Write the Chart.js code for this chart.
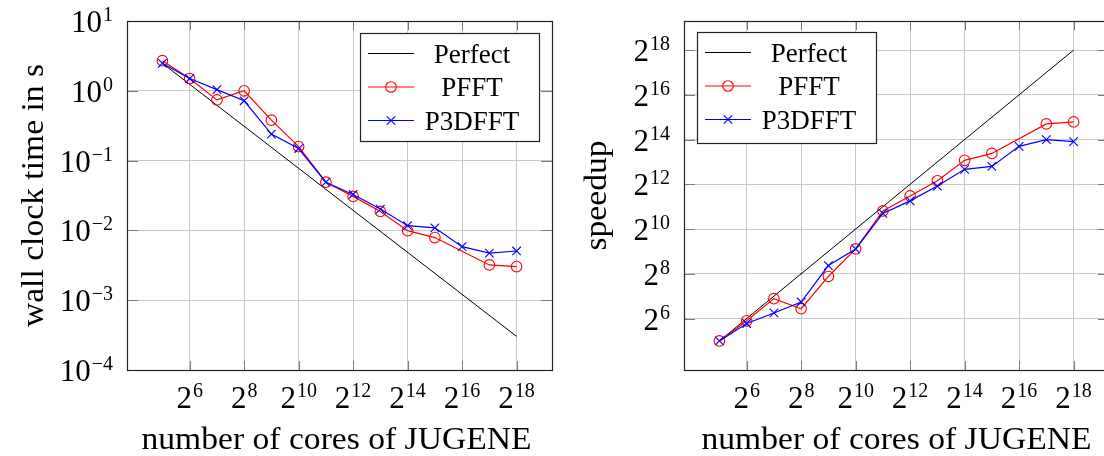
<!DOCTYPE html>
<html><head><meta charset="utf-8">
<script src="https://cdn.jsdelivr.net/npm/chart.js@4.4.1/dist/chart.umd.min.js"></script>
<style>
html,body{margin:0;padding:0;background:#fff;overflow:hidden;width:1104px;height:456px;position:relative;}
canvas{position:absolute;top:0;}
#c1{left:0}
#c2{left:560px}
</style></head><body>
<canvas id="c1" width="560" height="456"></canvas>
<canvas id="c2" width="560" height="456"></canvas>
<script>
// ---- data ----
const cores = [32, 64, 128, 256, 512, 1024, 2048, 4096, 8192, 16384, 32768, 65536, 131072, 262144];
const timePFFT   = [2.70, 1.50, 0.74, 1.00, 0.38, 0.159, 0.049, 0.0307, 0.0187, 0.0099, 0.0079, null, 0.0032, 0.00303];
const timeP3DFFT = [2.48, 1.50, 1.04, 0.72, 0.24, 0.149, 0.049, 0.0327, 0.0202, 0.0117, 0.0109, 0.00585, 0.00474, 0.00507];
const perfectCores = [32, 262144];
const perfectTime = [2.48, 0.000303];
const speedupPFFT   = [32, 59.7, 118.6, 86.8, 235.6, 552.6, 1795, 2856, 4576, 8600, 10660, null, 26600, 28330];
const speedupP3DFFT = [32, 54.9, 76.1, 106.9, 330.8, 552.6, 1663, 2452, 3875, 6515, 7130, 13300, 16380, 15390];
const perfectSpeedup = [32, 262144];
const seriesNames = ['Perfect', 'PFFT', 'P3DFFT'];
const xTickExps = [6, 8, 10, 12, 14, 16, 18];
const timeTickExps = [1, 0, -1, -2, -3, -4];
const speedupTickExps = [6, 8, 10, 12, 14, 16, 18];
const xTitle = 'number of cores of JUGENE';
const timeTitle = 'wall clock time in s';
const speedupTitle = 'speedup';

// ---- styling ----
const FONT = '"Liberation Serif", "Times New Roman", serif';
const BASE_FONT = '31px ' + FONT;
const SUP_FONT = '20px ' + FONT;
const TITLE_FONT = '32px ' + FONT;
const TITLE_STRETCH = 1.05;
const LEG_FONT = '27px ' + FONT;
const GRID = '#c8c8c8';
const TICK = '#7a7a7a';

const pts = (xs, ys) => xs.map((x, i) => ({x: x, y: ys[i]}));

function supLabel(ctx, base, exp, x, y, align) {
  ctx.font = BASE_FONT; const wb = ctx.measureText(base).width;
  ctx.font = SUP_FONT; const we = ctx.measureText(exp).width;
  const total = wb + we + 1;
  const x0 = align === 'center' ? x - total / 2 : x - total;
  ctx.textAlign = 'left'; ctx.textBaseline = 'alphabetic'; ctx.fillStyle = '#000';
  ctx.font = BASE_FONT; ctx.fillText(base, x0, y);
  ctx.font = SUP_FONT; ctx.fillText(exp, x0 + wb + 1, y - 11);
}
const expStr = e => String(e).replace('-', '\u2212');

function marker(ctx, style, x, y, color) {
  ctx.save();
  ctx.strokeStyle = color; ctx.lineWidth = 1.1;
  ctx.beginPath();
  if (style === 'circle') { ctx.arc(x, y, 5.3, 0, Math.PI * 2); }
  else { const d = 4.2; ctx.moveTo(x - d, y - d); ctx.lineTo(x + d, y + d); ctx.moveTo(x + d, y - d); ctx.lineTo(x - d, y + d); }
  ctx.stroke();
  ctx.restore();
}

function stretchedText(ctx, text, x, y, rot) {
  ctx.save();
  ctx.translate(x, y);
  if (rot) ctx.rotate(rot);
  ctx.scale(TITLE_STRETCH, 1);
  ctx.fillText(text, 0, 0);
  ctx.restore();
}

const decor = {
  id: 'decor',
  afterDatasetsDraw(chart, args, o) {
    const ctx = chart.ctx, a = chart.chartArea;
    const xs = chart.scales.x, ys = chart.scales.y;
    ctx.save();
    ctx.strokeStyle = TICK; ctx.lineWidth = 1;
    ctx.beginPath();
    xTickExps.forEach(e => {
      const px = Math.round(xs.getPixelForValue(Math.pow(2, e))) + 0.5;
      ctx.moveTo(px, a.bottom); ctx.lineTo(px, a.bottom - 9);
      ctx.moveTo(px, a.top); ctx.lineTo(px, a.top + 9);
    });
    o.yTickExps.forEach(e => {
      const py = Math.round(ys.getPixelForValue(Math.pow(o.yBase, e))) + 0.5;
      ctx.moveTo(a.left, py); ctx.lineTo(a.left + 11, py);
      ctx.moveTo(a.right, py); ctx.lineTo(a.right - 11, py);
    });
    ctx.stroke();
    ctx.strokeStyle = '#222'; ctx.lineWidth = 1.2;
    ctx.strokeRect(Math.round(a.left) + 0.5, Math.round(a.top) + 0.5, Math.round(a.right) - Math.round(a.left), Math.round(a.bottom) - Math.round(a.top));
    ctx.restore();
  },
  afterDraw(chart, args, o) {
    const ctx = chart.ctx, a = chart.chartArea;
    const xs = chart.scales.x, ys = chart.scales.y;
    ctx.save();
    xTickExps.forEach(e => {
      supLabel(ctx, '2', expStr(e), xs.getPixelForValue(Math.pow(2, e)), 408, 'center');
    });
    o.yTickExps.forEach(e => {
      supLabel(ctx, String(o.yBase), expStr(e), a.left - 14, ys.getPixelForValue(Math.pow(o.yBase, e)) + 11, 'right');
    });
    ctx.fillStyle = '#000'; ctx.font = TITLE_FONT; ctx.textAlign = 'center'; ctx.textBaseline = 'alphabetic';
    stretchedText(ctx, xTitle, (a.left + a.right) / 2 - o.xTitleShift, 449, 0);
    stretchedText(ctx, o.yTitle, o.yTitleX, (a.top + a.bottom) / 2, -Math.PI / 2);
    const L = o.legend;
    ctx.fillStyle = '#fff'; ctx.fillRect(L.x, L.y, L.w, L.h);
    ctx.strokeStyle = '#222'; ctx.lineWidth = 1.2;
    ctx.strokeRect(L.x + 0.5, L.y + 0.5, L.w, L.h);
    const colors = ['#000', 'rgb(255,0,0)', 'rgb(0,0,255)'];
    const styles = [null, 'circle', 'cross'];
    seriesNames.forEach((name, i) => {
      const ry = L.y + 20.5 + i * 33.5;
      ctx.strokeStyle = colors[i]; ctx.lineWidth = i === 0 ? 1 : 1.2;
      ctx.beginPath(); ctx.moveTo(L.x + 8, ry); ctx.lineTo(L.x + 54, ry); ctx.stroke();
      if (styles[i]) marker(ctx, styles[i], L.x + 31, ry, colors[i]);
      ctx.fillStyle = '#000'; ctx.font = LEG_FONT; ctx.textAlign = 'center';
      ctx.fillText(name, L.x + 112, ry + 9);
    });
    ctx.restore();
  }
};

function makeChart(id, ySeries, yOpts, decorOpts, yWidth, padRight) {
  const datasets = [
    {label: seriesNames[0], data: pts(ySeries[0][0], ySeries[0][1]), borderColor: '#000', borderWidth: 1, pointRadius: 0, order: 2},
    {label: seriesNames[1], data: pts(cores, ySeries[1]), borderColor: 'rgb(255,0,0)', borderWidth: 1.2, pointStyle: 'circle', pointRadius: 5.3, pointBorderWidth: 1.1, pointBorderColor: 'rgb(255,0,0)', pointBackgroundColor: 'rgba(0,0,0,0)', spanGaps: true, order: 1},
    {label: seriesNames[2], data: pts(cores, ySeries[2]), borderColor: 'rgb(0,0,255)', borderWidth: 1.2, pointStyle: 'crossRot', pointRadius: 6, pointBorderWidth: 1.1, pointBorderColor: 'rgb(0,0,255)', pointBackgroundColor: 'rgb(0,0,255)', spanGaps: true, order: 0}
  ];
  return new Chart(document.getElementById(id), {
    type: 'line',
    data: {datasets},
    options: {
      responsive: false, animation: false, devicePixelRatio: 1,
      events: [],
      layout: {padding: {top: 21, right: padRight, left: 0, bottom: 0}},
      plugins: {legend: {display: false}, tooltip: {enabled: false}, decor: decorOpts},
      elements: {line: {tension: 0}},
      scales: {
        x: {
          type: 'logarithmic', bounds: 'data',
          min: Math.pow(2, 3.7), max: Math.pow(2, 19.3),
          afterBuildTicks: s => { s.ticks = xTickExps.map(e => ({value: Math.pow(2, e)})); },
          afterFit: s => { s.height = 86; },
          ticks: {display: false},
          grid: {color: GRID, lineWidth: 1, drawTicks: false},
          border: {display: false}
        },
        y: Object.assign({
          type: 'logarithmic', bounds: 'data',
          afterFit: s => { s.width = yWidth; },
          ticks: {display: false},
          grid: {color: GRID, lineWidth: 1, drawTicks: false},
          border: {display: false}
        }, yOpts)
      }
    },
    plugins: [decor]
  });
}

makeChart('c1',
  [[perfectCores, perfectTime], timePFFT, timeP3DFFT],
  {min: 1e-4, max: 10, afterBuildTicks: s => { s.ticks = timeTickExps.map(e => ({value: Math.pow(10, e)})); }},
  {yBase: 10, yTickExps: timeTickExps, yTitle: timeTitle, yTitleX: 43, xTitleShift: 3,
   legend: {x: 360, y: 33, w: 179, h: 108}},
  127, 8);

makeChart('c2',
  [[perfectCores, perfectSpeedup], speedupPFFT, speedupP3DFFT],
  {min: Math.pow(2, 3.7), max: Math.pow(2, 19.3), afterBuildTicks: s => { s.ticks = speedupTickExps.map(e => ({value: Math.pow(2, e)})); }},
  {yBase: 2, yTickExps: speedupTickExps, yTitle: speedupTitle, yTitleX: 46, xTitleShift: 0,
   legend: {x: 137, y: 32, w: 179, h: 111}},
  124, 11);
</script>
</body></html>
